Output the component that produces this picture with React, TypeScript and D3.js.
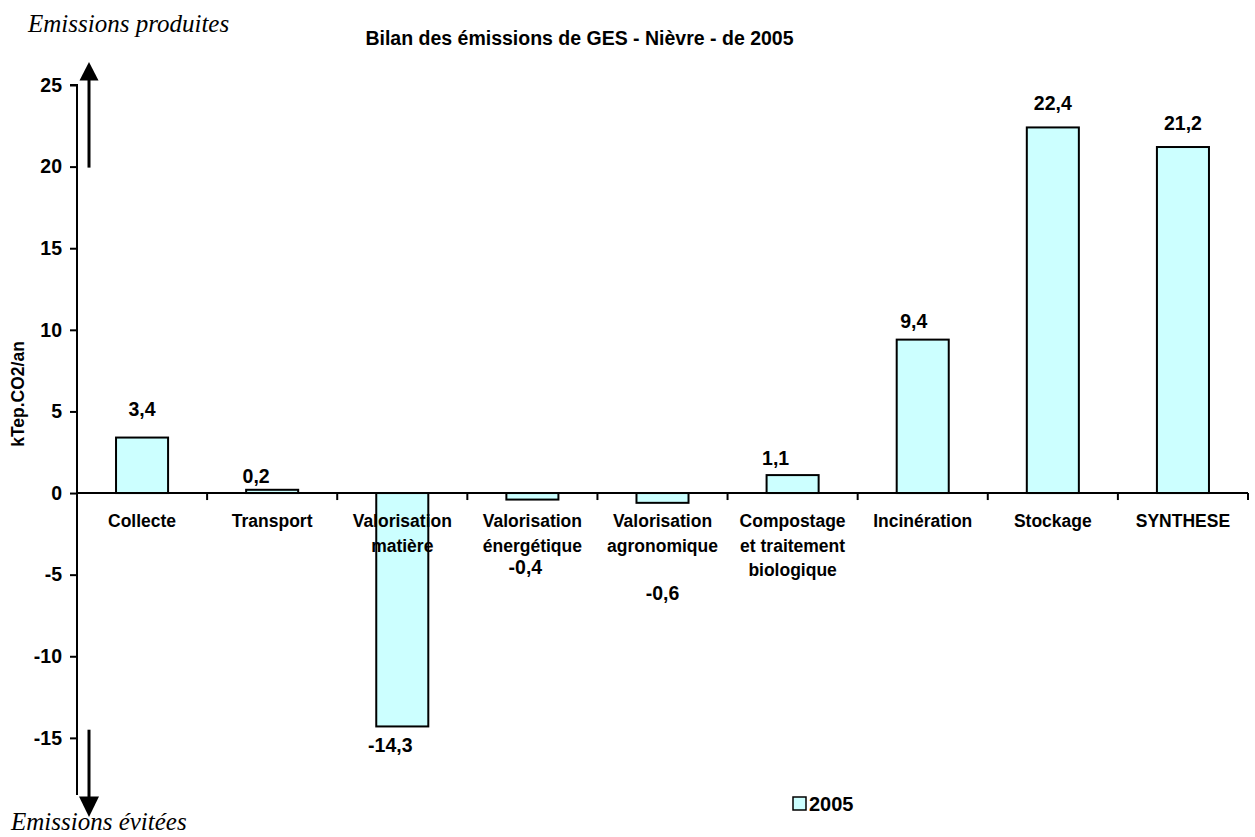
import { useEffect, useRef } from "react";
import * as d3 from "d3";

const width = 1255;
const height = 837;

const categories = [
  "Collecte",
  "Transport",
  "Valorisation\nmatière",
  "Valorisation\nénergétique",
  "Valorisation\nagronomique",
  "Compostage\net traitement\nbiologique",
  "Incinération",
  "Stockage",
  "SYNTHESE",
];
const values2005 = [3.4, 0.2, -14.3, -0.4, -0.6, 1.1, 9.4, 22.4, 21.2];
const yTicks = [-15, -10, -5, 0, 5, 10, 15, 20, 25];
const seriesName = "2005";

// hand-placed label nudges (px), like the labels moved by hand in the original
const labelDx = [0, -16, -12, -7, 0, -17, -9, 0, 0];
const labelDy = [-22, -7, 26, 74, 97, -10, -12, -17, -17];

const plotLeft = 77;
const plotRight = 1248;
const barFill = "#CCFFFF";
const sans = "'Liberation Sans', Arial, sans-serif";
const serif = "'Liberation Serif', 'Times New Roman', serif";

// french decimal comma, plain hyphen for the minus sign
const fmt = (v: number) => v.toFixed(1).replace(".", ",");

export default function App() {
  const yAxisRef = useRef<SVGGElement>(null);

  const x = d3
    .scaleBand<string>()
    .domain(categories)
    .range([plotLeft, plotRight])
    .paddingInner(0.6)
    .paddingOuter(0.3);
  const step = x.step();

  const y = d3.scaleLinear().domain([-18.5, 25]).range([795, 85]);
  const y0 = y(0);

  useEffect(() => {
    const g = d3.select(yAxisRef.current);
    g.call(d3.axisLeft(y).tickValues(yTicks).tickSize(7).tickPadding(8).tickFormat((d) => String(d)) as any);
    g.select(".domain").attr("stroke-width", 2).attr("d", `M-7,${y(25)}H0V${y(-18.5)}`);
    g.selectAll(".tick line").attr("stroke-width", 2);
    g.selectAll(".tick text")
      .attr("font-family", sans)
      .attr("font-weight", "bold")
      .attr("font-size", 19.5)
      .attr("fill", "#000");
  }, []);

  const data = categories.map((c, i) => ({ c, v: values2005[i], i }));

  return (
    <svg
      width={width}
      height={height}
      style={{ position: "absolute", left: 0, top: 0, background: "#fff" }}
    >
      <text
        x={579.5}
        y={45}
        textAnchor="middle"
        fontFamily={sans}
        fontWeight="bold"
        fontSize={19.5}
      >
        Bilan des émissions de GES - Nièvre - de 2005
      </text>

      {/* bars */}
      {data.map((d) => (
        <rect
          key={d.c}
          x={x(d.c)}
          y={Math.min(y(d.v), y0)}
          width={x.bandwidth()}
          height={Math.abs(y(d.v) - y0)}
          fill={barFill}
          stroke="#000"
          strokeWidth={2}
        />
      ))}

      {/* x axis at zero */}
      <line x1={plotLeft} x2={plotRight} y1={y0} y2={y0} stroke="#000" strokeWidth={2} />
      {categories.map((c, i) => (
        <line
          key={"t" + i}
          x1={plotLeft + step * (i + 1)}
          x2={plotLeft + step * (i + 1)}
          y1={y0}
          y2={y0 + 7}
          stroke="#000"
          strokeWidth={2}
        />
      ))}

      {/* category labels */}
      {categories.map((c, i) => (
        <text
          key={"c" + i}
          x={plotLeft + step * (i + 0.5)}
          y={y0 + 34}
          textAnchor="middle"
          fontFamily={sans}
          fontWeight="bold"
          fontSize={17.5}
        >
          {c.split("\n").map((line, j) => (
            <tspan key={j} x={plotLeft + step * (i + 0.5)} dy={j === 0 ? 0 : 24.5}>
              {line}
            </tspan>
          ))}
        </text>
      ))}

      {/* value labels */}
      {data.map((d) => (
        <text
          key={"v" + d.i}
          x={plotLeft + step * (d.i + 0.5) + labelDx[d.i]}
          y={y(d.v) + labelDy[d.i]}
          textAnchor="middle"
          fontFamily={sans}
          fontWeight="bold"
          fontSize={19.5}
        >
          {fmt(d.v)}
        </text>
      ))}

      <g ref={yAxisRef} transform={`translate(${plotLeft},0)`} />

      <text
        transform={`translate(${24},${394}) rotate(-90)`}
        textAnchor="middle"
        fontFamily={sans}
        fontWeight="bold"
        fontSize={17.5}
      >
        kTep.CO2/an
      </text>

      {/* annotations */}
      <text x={28} y={32} fontFamily={serif} fontStyle="italic" fontSize={25}>
        Emissions produites
      </text>
      <text x={11} y={830} fontFamily={serif} fontStyle="italic" fontSize={25}>
        Emissions évitées
      </text>
      <line x1={89} x2={89} y1={y(20) + 1} y2={80} stroke="#000" strokeWidth={3} />
      <path d="M89,62L98.5,80.5L79.5,80.5Z" fill="#000" />
      <line x1={89} x2={89} y1={y(-14.5)} y2={797} stroke="#000" strokeWidth={3} />
      <path d="M79,796.5L99,796.5L89,817Z" fill="#000" />

      {/* legend */}
      <rect x={793} y={797} width={13} height={13} fill={barFill} stroke="#000" strokeWidth={1.5} />
      <text x={809} y={811} fontFamily={sans} fontWeight="bold" fontSize={20}>
        {seriesName}
      </text>
    </svg>
  );
}
